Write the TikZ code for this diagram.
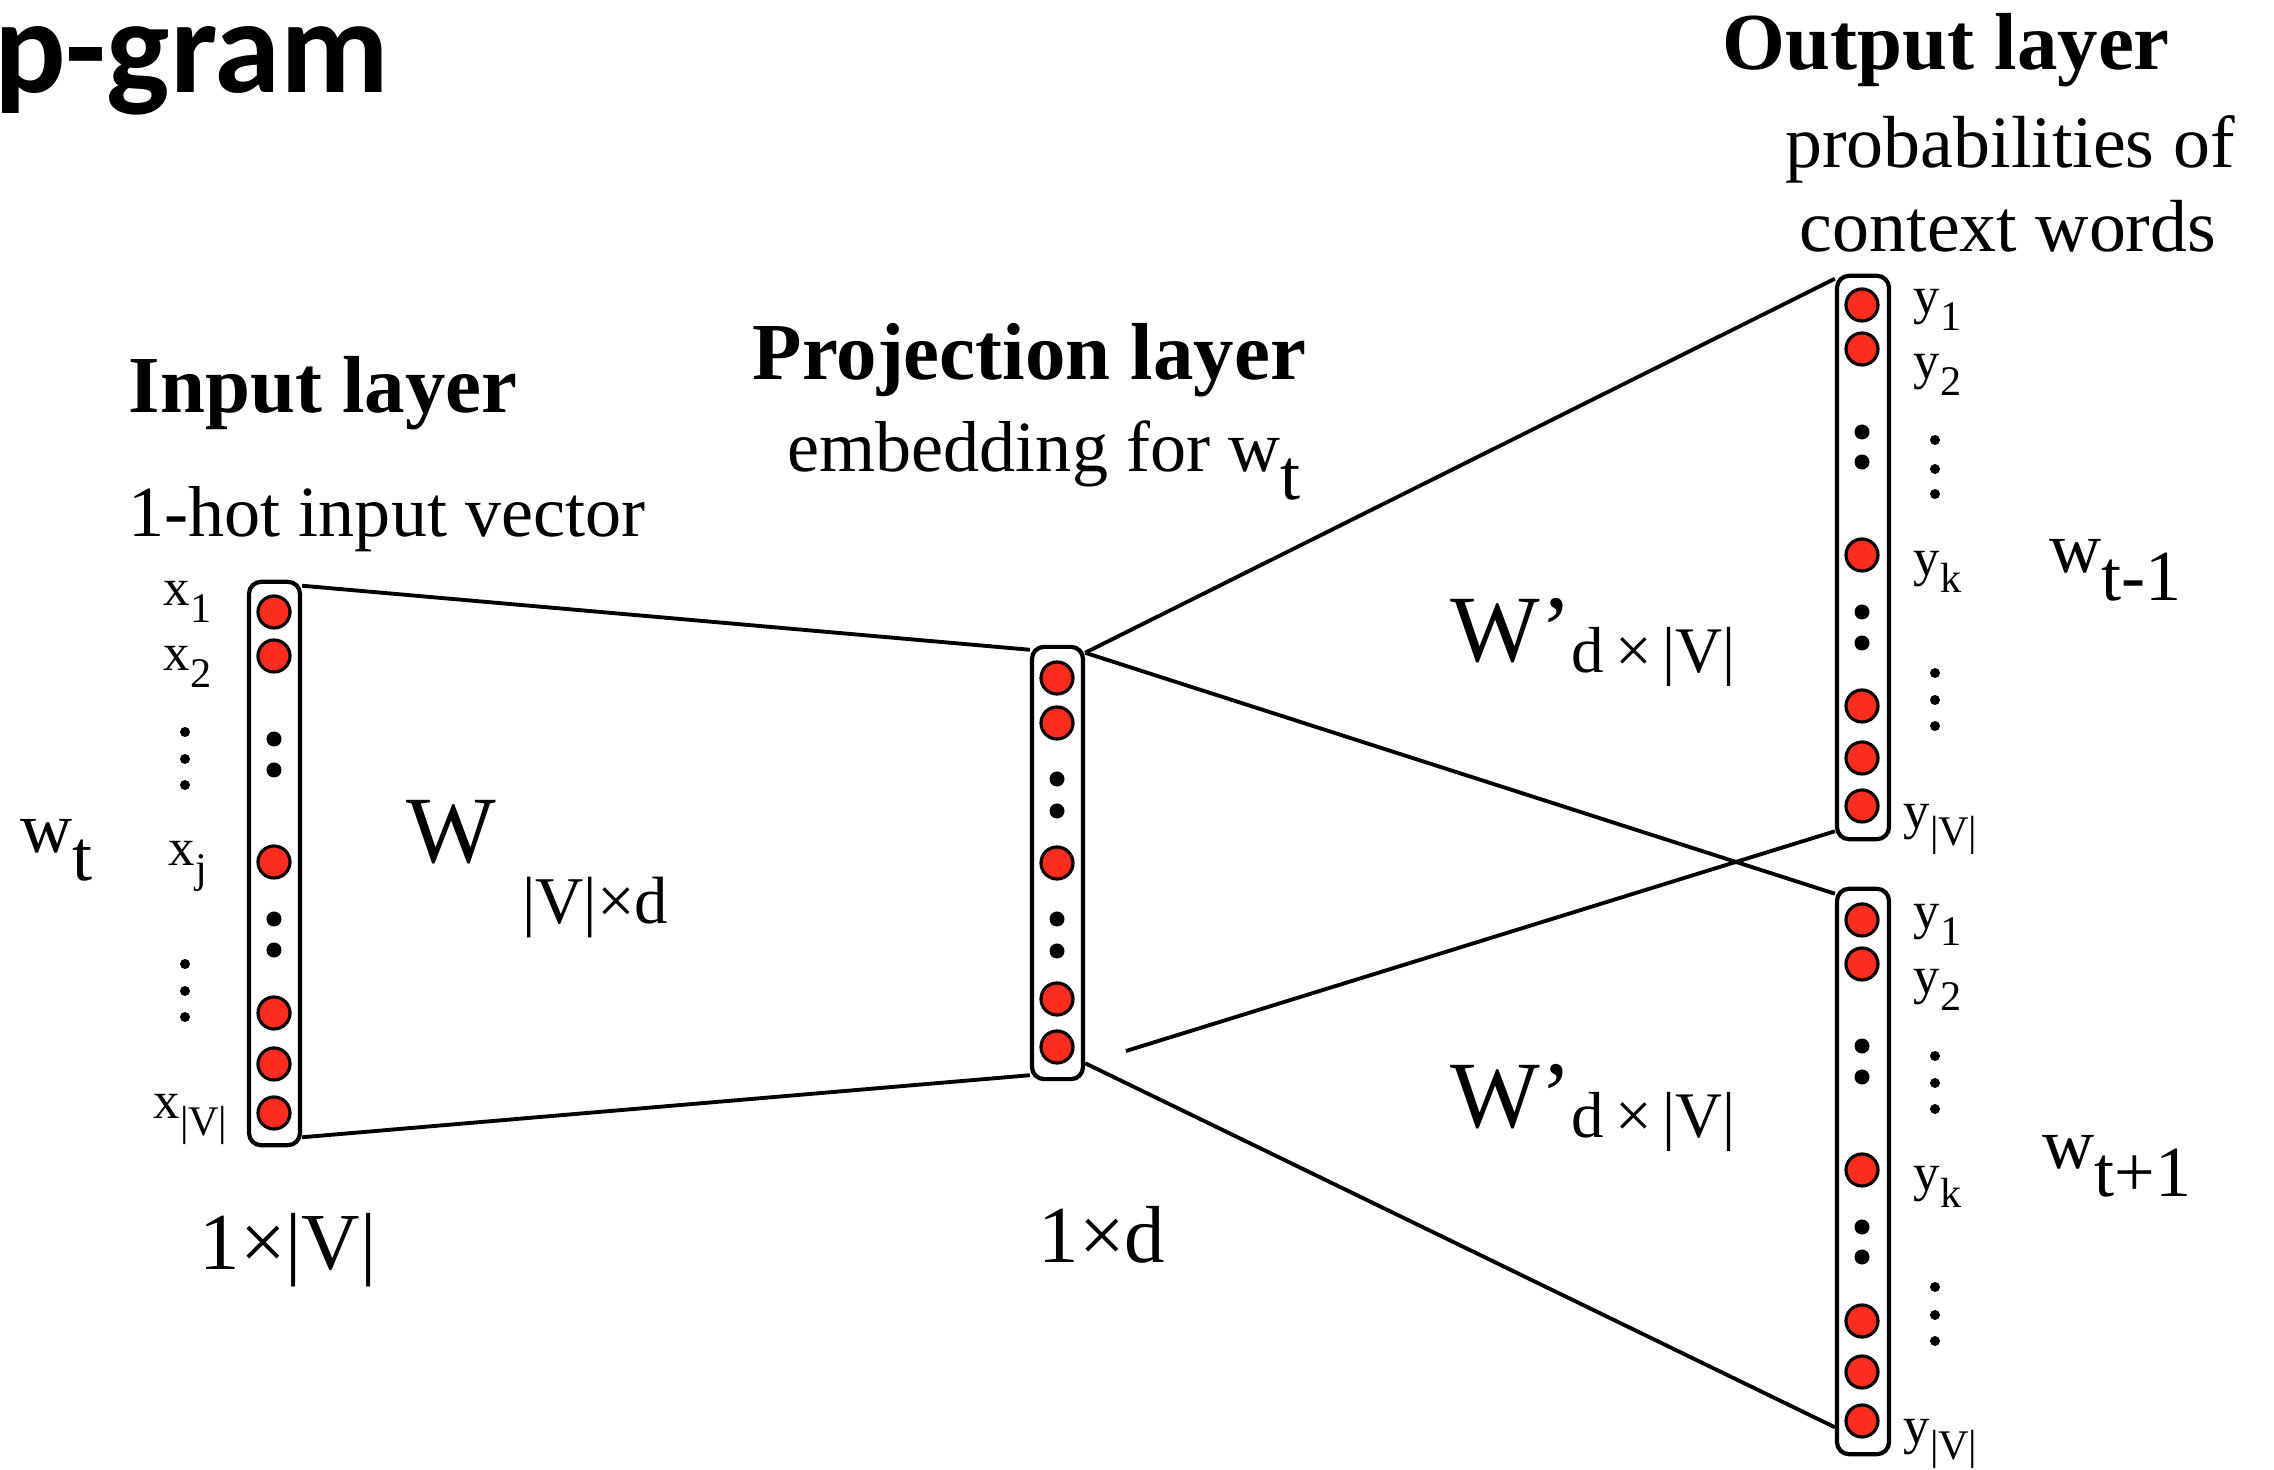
\documentclass[tikz,border=0pt]{standalone}
\usepackage{fontspec}
\setmainfont{Liberation Serif}
\newfontfamily\titlefont{Carlito}
\definecolor{nred}{RGB}{250,45,30}
\newcommand\lsub[1]{\raisebox{-4.8pt}{\fontsize{12}{14}\selectfont #1}}
\newcommand\wsub[1]{\raisebox{-7.7pt}{#1}}
\newcommand\bigsub[1]{{\fontsize{19}{21}\selectfont #1}}
\newcommand\midsub[1]{{\fontsize{18.5}{21}\selectfont #1}}
\tikzset{
  layerbox/.style={draw, line width=1.2pt, rounded corners=0.12cm, fill=white, minimum width=0.51cm, inner sep=0},
  neuron/.style={circle, draw, line width=0.9pt, fill=nred, minimum size=0.32cm, inner sep=0},
  bigdot/.style={circle, fill=black, minimum size=0.15cm, inner sep=0},
  smalldot/.style={circle, fill=black, minimum size=0.10cm, inner sep=0},
  conn/.style={line width=1.1pt},
  txt/.style={inner sep=0, font=\fontsize{20.5}{24}\selectfont},
  hdr/.style={inner sep=0, font=\fontsize{23}{26}\selectfont\bfseries},
  lbl/.style={inner sep=0, font=\fontsize{15}{18}\selectfont},
  wlbl/.style={inner sep=0, font=\fontsize{27}{30}\selectfont},
}
\begin{document}
\begin{tikzpicture}[x=0.01cm, y=-0.01cm]
\useasboundingbox (0,0) rectangle (2274,1470);
\clip (0,0) rectangle (2274,1470);
\fill[white] (0,0) rectangle (2274,1470);

% title (cut off at the left edge, as in the reference)
\node[inner sep=0, anchor=base east, font=\titlefont\fontsize{38}{40}\selectfont\bfseries] (title) at (390,93) {Skip-gram};

% layer boxes
\node[layerbox, minimum height=5.63cm] (inbox) at (274.5,863.5) {};
\node[layerbox, minimum height=4.32cm] (projbox) at (1057.5,863) {};
\node[layerbox, minimum height=5.63cm, minimum width=0.52cm] (outA) at (1863,557.5) {};
\node[layerbox, minimum height=5.65cm, minimum width=0.52cm] (outB) at (1863,1171.5) {};

% neurons
\foreach \y [count=\i] in {612,656,862,1013,1064,1113} \node[neuron] (in\i) at (274,\y) {};
\foreach \y [count=\i] in {739,770,919,950} \node[bigdot] (ind\i) at (274,\y) {};
\foreach \y [count=\i] in {678,723,863,999,1047} \node[neuron] (pr\i) at (1057,\y) {};
\foreach \y [count=\i] in {779,811,919,951} \node[bigdot] (prd\i) at (1057,\y) {};
\foreach \y [count=\i] in {305,349,555,706,758,806} \node[neuron] (oa\i) at (1862,\y) {};
\foreach \y [count=\i] in {432,462,612,643} \node[bigdot] (oad\i) at (1862,\y) {};
\foreach \y [count=\i] in {920,964,1170,1321,1372,1421} \node[neuron] (ob\i) at (1862,\y) {};
\foreach \y [count=\i] in {1046,1077,1227,1257} \node[bigdot] (obd\i) at (1862,\y) {};

% connectors
\coordinate (free) at (1126,1051);
\draw[conn] ([yshift=-0.06cm]inbox.north east) -- ([yshift=-0.05cm]projbox.north west);
\draw[conn] ([yshift=0.10cm]inbox.south east) -- ([yshift=0.06cm]projbox.south west);
\draw[conn] ([yshift=-0.08cm]projbox.north east) -- ([yshift=-0.05cm]outA.north west);
\draw[conn] ([yshift=-0.08cm]projbox.north east) -- ([yshift=-0.07cm]outB.north west);
\draw[conn] ([yshift=0.10cm]outA.south west) -- (free);
\draw[conn] ([yshift=0.18cm]projbox.south east) -- ([yshift=0.29cm]outB.south west);

% headers
\node[hdr, anchor=base west] (inhdr) at (128,413) {Input layer};
\node[txt, anchor=base west] (insub) at (128,537) {1-hot input vector};
\node[hdr, anchor=base west] (prhdr) at (752,380) {Projection layer};
\node[txt, anchor=base west] (prsub) at (787,472) {embedding for w\wsub{t}};
\node[hdr, anchor=base west] (ouhdr) at (1722,70) {Output layer};
\node[txt, font=\fontsize{21}{24}\selectfont, anchor=base] (ousub1) at (2010,168) {probabilities of};
\node[txt, font=\fontsize{21}{24}\selectfont, anchor=base] (ousub2) at (2008,252) {context words};

% input labels
\node[lbl, anchor=base west] (lx1) at (163,606) {x\lsub{1}};
\node[lbl, anchor=base west] (lx2) at (163,671) {x\lsub{2}};
\node[lbl, anchor=base west] (lxj) at (168,866) {x\lsub{j}};
\node[lbl, anchor=base west] (lxv) at (153,1119) {x\lsub{|V|}};
\foreach \y [count=\i] in {732,759,785,964,991,1017} \node[smalldot] (lxd\i) at (185,\y) {};

% output labels
\node[lbl, anchor=base west] (ya1) at (1913,314) {y\lsub{1}};
\node[lbl, anchor=base west] (ya2) at (1913,379) {y\lsub{2}};
\node[lbl, anchor=base west] (yak) at (1913,576) {y\lsub{k}};
\node[lbl, anchor=base west] (yav) at (1903,829) {y\lsub{|V|}};
\foreach \y [count=\i] in {440,469,494,673,700,726} \node[smalldot] (yad\i) at (1935,\y) {};
\node[lbl, anchor=base west] (yb1) at (1913,929) {y\lsub{1}};
\node[lbl, anchor=base west] (yb2) at (1913,994) {y\lsub{2}};
\node[lbl, anchor=base west] (ybk) at (1913,1191) {y\lsub{k}};
\node[lbl, anchor=base west] (ybv) at (1903,1443) {y\lsub{|V|}};
\foreach \y [count=\i] in {1056,1083,1109,1287,1315,1341} \node[smalldot] (ybd\i) at (1935,\y) {};

% word labels
\node[txt, anchor=base west] (wt) at (20,853) {w\wsub{t}};
\node[txt, anchor=base west] (wtm) at (2049,573) {w\wsub{t-1}};
\node[txt, anchor=base west] (wtp) at (2042,1169) {w\wsub{t+1}};

% weight labels
\node[wlbl, anchor=base west] (W) at (406,863) {W\hspace{0.26cm}\raisebox{-0.6cm}{\bigsub{|V|×d}}};
\node[wlbl, anchor=base west] (Wa) at (1450,662) {W’\raisebox{-0.1cm}{\midsub{d\,×\,|V|}}};
\node[wlbl, anchor=base west] (Wb) at (1450,1127) {W’\raisebox{-0.1cm}{\midsub{d\,×\,|V|}}};

% dimension labels
\node[txt, font=\fontsize{23}{26}\selectfont, anchor=base west] (din) at (199,1270) {1×|V|};
\node[txt, font=\fontsize{23}{26}\selectfont, anchor=base west] (dpr) at (1038,1262) {1×d};
\end{tikzpicture}
\end{document}
